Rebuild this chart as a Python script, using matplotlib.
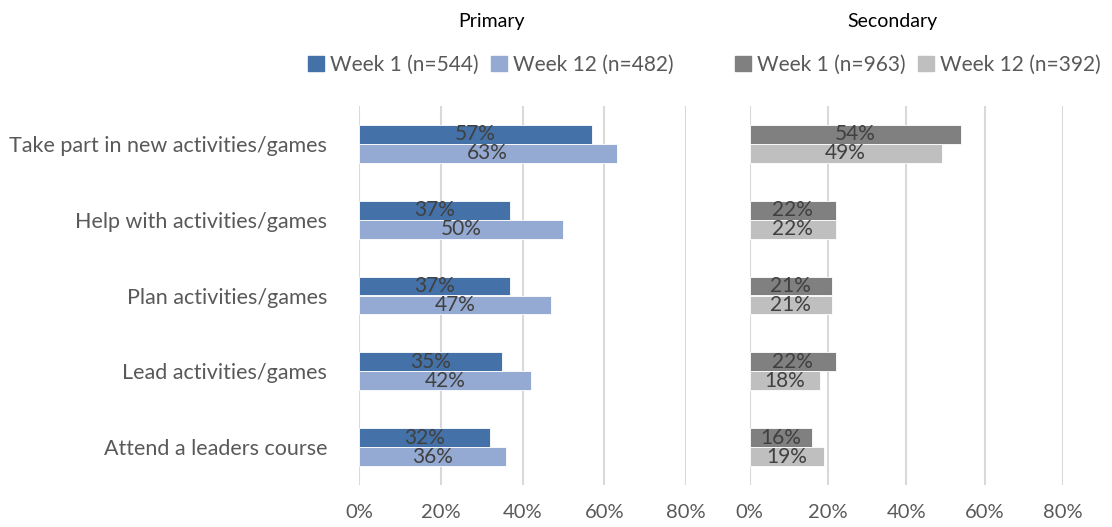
import matplotlib
matplotlib.use('Agg')
import matplotlib.pyplot as plt
import numpy as np
from matplotlib.patches import Patch

# ---------------------- DATA
categories = ["Take part in new activities/games", "Help with activities/games",
              "Plan activities/games", "Lead activities/games", "Attend a leaders course"]
primary_w1 = [57, 37, 37, 35, 32]
primary_w12 = [63, 50, 47, 42, 36]
secondary_w1 = [54, 22, 21, 22, 16]
secondary_w12 = [49, 22, 21, 18, 19]
primary_labels = ["Week 1 (n=544)", "Week 12 (n=482)"]
secondary_labels = ["Week 1 (n=963)", "Week 12 (n=392)"]
xticks = [0, 20, 40, 60, 80]

plt.rcParams['font.family'] = ['Lato', 'DejaVu Sans']
grey_txt = '#595959'

fig = plt.figure(figsize=(11.12, 5.27), dpi=100)
W, H = 1112, 527
ax1 = fig.add_axes([359 / W, 42 / H, 327 / W, 379 / H])
ax2 = fig.add_axes([749.7 / W, 42 / H, 313.3 / W, 379 / H])

y = np.arange(len(categories))
h = 0.25


def draw(ax, w1, w12, c1, c12, labels, title, title_x, leg_x):
    b1 = ax.barh(y - h / 2, w1, height=h, color=c1, edgecolor='white', linewidth=0.6)
    b2 = ax.barh(y + h / 2, w12, height=h, color=c12, edgecolor='white', linewidth=0.6)
    for bars, vals in ((b1, w1), (b2, w12)):
        for bar, v in zip(bars, vals):
            ax.text(v / 2, bar.get_y() + bar.get_height() / 2, f"{v}%",
                    ha='center', va='center', fontsize=15, color='#404040')
    ax.set_xlim(0, 80)
    ax.set_ylim(len(categories) - 0.5, -0.5)
    ax.set_xticks(xticks)
    ax.set_xticklabels([f"{t}%" for t in xticks], fontsize=14.5, color=grey_txt)
    ax.tick_params(axis='x', length=0, pad=14)
    ax.tick_params(axis='y', length=0)
    ax.grid(axis='x', color='#d9d9d9', linewidth=1.5)
    ax.set_axisbelow(True)
    for s in ax.spines.values():
        s.set_visible(False)
    fig.text(title_x / W, 1 - 22 / H, title, ha='center', va='center', fontsize=14, color='black')
    handles = [Patch(color=c1), Patch(color=c12)]
    fig.legend(handles, labels, loc='center', bbox_to_anchor=(leg_x / W, 1 - 65 / H),
               ncol=2, frameon=False, fontsize=15, labelcolor=grey_txt,
               handlelength=0.75, handleheight=0.75, handletextpad=0.3, columnspacing=0.6)


draw(ax1, primary_w1, primary_w12, '#4472a8', '#95aad2', primary_labels, "Primary", 492, 491)
draw(ax2, secondary_w1, secondary_w12, '#808080', '#bfbfbf', secondary_labels, "Secondary", 892, 918)

ax1.set_yticks(y)
ax1.set_yticklabels(categories, fontsize=15.5, color=grey_txt)
ax1.tick_params(axis='y', pad=23)
ax2.set_yticks([])

fig.savefig("out.png", dpi=100)
